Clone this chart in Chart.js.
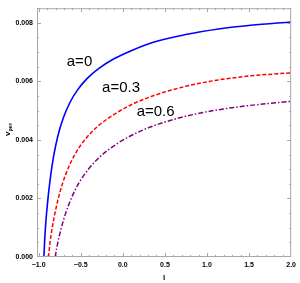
<!DOCTYPE html>
<html>
<head>
<meta charset="utf-8">
<script src="https://cdn.jsdelivr.net/npm/chart.js@4.4.0/dist/chart.umd.min.js"></script>
<style>
  html, body { margin: 0; padding: 0; background: #fff; }
  #wrap { width: 300px; height: 283px; position: relative; }
</style>
</head>
<body>
<div id="wrap"><canvas id="chart"></canvas></div>
<script>
// 刻度
const xTicks = [-1.0, -0.5, 0.0, 0.5, 1.0, 1.5, 2.0];
const yTicks = [0, 0.002, 0.004, 0.006, 0.008];

// a=0
const xA0 = [-0.938, -0.93, -0.915, -0.893, -0.87, -0.825, -0.775, -0.71, -0.63, -0.54, -0.42, -0.28, -0.1, 0.1, 0.353, 0.745, 1.136, 1.52, 2.0];
const yA0 = [0, 0.0005, 0.0012, 0.0019, 0.0025, 0.0034, 0.0041, 0.00473, 0.00527, 0.0057, 0.00611, 0.00645, 0.00678, 0.00705, 0.00733, 0.0076, 0.00779, 0.00792, 0.00803];

// a=0.3
const xA3 = [-0.883, -0.865, -0.845, -0.805, -0.765, -0.718, -0.65, -0.56, -0.45, -0.3, -0.1, 0.1, 0.353, 0.745, 1.136, 1.52, 2.0];
const yA3 = [0, 0.0005, 0.0009, 0.00152, 0.00202, 0.0025, 0.00303, 0.00355, 0.00401, 0.00446, 0.00488, 0.0052, 0.0055, 0.00583, 0.00605, 0.00619, 0.00629];

// a=0.6
const xA6 = [-0.804, -0.785, -0.734, -0.68, -0.609, -0.52, -0.4, -0.25, -0.08, 0.1, 0.3, 0.5, 0.75, 1.136, 1.52, 2.0];
const yA6 = [0, 0.00032, 0.00096, 0.00149, 0.00203, 0.00254, 0.00303, 0.00348, 0.00385, 0.00415, 0.00441, 0.00461, 0.00481, 0.00503, 0.00518, 0.00532];

const curveLabels = [
    { text: "a=0", x: -0.515, y: 0.00654 },
    { text: "a=0.3", x: -0.021, y: 0.00565 },
    { text: "a=0.6", x: 0.39, y: 0.00482 }
];

const toPoints = (xs, ys) => xs.map((x, i) => ({ x: x, y: ys[i] }));
const fmtX = v => v.toFixed(1).replace("-", "\u2212");

// 外框、內向刻度、曲線標籤、縱軸標題
const framePlugin = {
    id: "frame",
    afterDatasetsDraw(chart) {
        const { ctx, chartArea: a, scales } = chart;
        const sx = scales.x, sy = scales.y;
        ctx.save();
        ctx.strokeStyle = "#a8a8a8";
        ctx.lineWidth = 1;
        ctx.strokeRect(a.left + 0.5, a.top + 0.5, a.right - a.left - 1, a.bottom - a.top - 1);

        ctx.beginPath();
        for (let i = -10; i <= 20; i++) {
            const v = i / 10;
            const px = Math.round(sx.getPixelForValue(v)) + 0.5;
            if (px < a.left || px > a.right) continue;
            const len = (i % 5 === 0) ? 4 : 2;
            ctx.moveTo(px, a.bottom); ctx.lineTo(px, a.bottom - len);
            ctx.moveTo(px, a.top); ctx.lineTo(px, a.top + len);
        }
        for (let j = 0; j <= 17; j++) {
            const v = j * 0.0005;
            const py = Math.round(sy.getPixelForValue(v)) + 0.5;
            if (py < a.top || py > a.bottom) continue;
            const len = (j % 4 === 0) ? 4 : 2;
            ctx.moveTo(a.left, py); ctx.lineTo(a.left + len, py);
            ctx.moveTo(a.right, py); ctx.lineTo(a.right - len, py);
        }
        ctx.stroke();

        ctx.fillStyle = "#000";
        ctx.font = "15px 'Liberation Sans', Arial, sans-serif";
        ctx.textAlign = "center";
        ctx.textBaseline = "alphabetic";
        curveLabels.forEach(l => {
            ctx.fillText(l.text, sx.getPixelForValue(l.x), sy.getPixelForValue(l.y));
        });

        // v_per
        ctx.translate(8, 130);
        ctx.rotate(-Math.PI / 2);
        ctx.textAlign = "left";
        ctx.font = "bold 8px 'Liberation Sans', Arial, sans-serif";
        ctx.fillText("v", -6, 2);
        ctx.font = "bold 5.5px 'Liberation Sans', Arial, sans-serif";
        ctx.fillText("per", -1.5, 4);
        ctx.restore();
    }
};

const tickFont = { family: "'Liberation Sans', Arial, sans-serif", size: 7, weight: "bold" };

new Chart(document.getElementById("chart"), {
    type: "scatter",
    data: {
        datasets: [
            {
                data: toPoints(xA0, yA0),
                borderColor: "rgb(0,0,255)",
                borderWidth: 1.6,
                showLine: true,
                pointRadius: 0,
                cubicInterpolationMode: "monotone"
            },
            {
                data: toPoints(xA3, yA3),
                borderColor: "rgb(255,0,0)",
                borderWidth: 1.5,
                borderDash: [4, 2],
                showLine: true,
                pointRadius: 0,
                cubicInterpolationMode: "monotone"
            },
            {
                data: toPoints(xA6, yA6),
                borderColor: "rgb(128,0,128)",
                borderWidth: 1.5,
                borderDash: [5, 2, 1.5, 2],
                showLine: true,
                pointRadius: 0,
                cubicInterpolationMode: "monotone"
            }
        ]
    },
    options: {
        responsive: true,
        maintainAspectRatio: false,
        animation: false,
        layout: { padding: { top: 1, right: 6, left: 0, bottom: 0 } },
        plugins: {
            legend: { display: false },
            tooltip: { enabled: false }
        },
        scales: {
            x: {
                type: "linear",
                min: -1.02,
                max: 2.0,
                afterBuildTicks: s => { s.ticks = xTicks.map(v => ({ value: v })); },
                afterFit: s => { s.height = 26; },
                grid: { display: false, drawTicks: false },
                border: { display: false },
                ticks: { font: tickFont, color: "#000", padding: 4, maxRotation: 0, callback: v => fmtX(v) },
                title: { display: true, text: "l", font: { family: "'Liberation Sans', Arial, sans-serif", size: 8, weight: "bold" }, color: "#000", padding: { top: 2, bottom: 0 } }
            },
            y: {
                type: "linear",
                min: 0,
                max: 0.0085,
                afterBuildTicks: s => { s.ticks = yTicks.map(v => ({ value: v })); },
                afterFit: s => { s.width = 37; },
                grid: { display: false, drawTicks: false },
                border: { display: false },
                ticks: { font: tickFont, color: "#000", padding: 4, callback: v => v.toFixed(3) }
            }
        }
    },
    plugins: [framePlugin]
});
</script>
</body>
</html>
